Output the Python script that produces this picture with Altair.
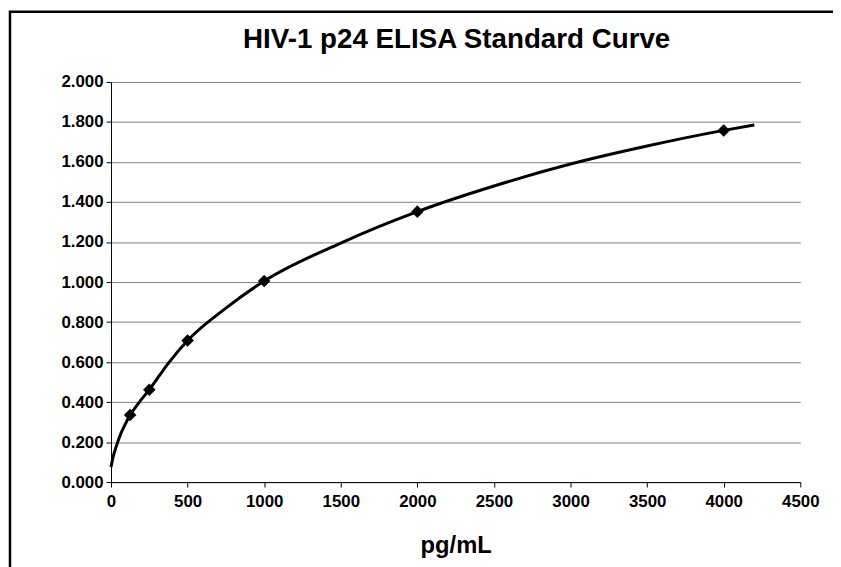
import altair as alt
import pandas as pd

# Standards (pg/mL) and measured OD
conc = [125, 250, 500, 1000, 2000, 4000]
od = [0.335, 0.462, 0.708, 1.005, 1.352, 1.758]

# Trend curve
curve_x = [0, 15, 35, 60, 90, 125, 180, 250, 375, 500, 750, 1000, 1500, 2000, 2500, 3000, 3500, 4000, 4200]
curve_y = [0.075, 0.13, 0.18, 0.235, 0.285, 0.335, 0.395, 0.462, 0.595, 0.708, 0.87, 1.005, 1.195, 1.352, 1.48, 1.59, 1.68, 1.758, 1.785]

x_ticks = [0, 500, 1000, 1500, 2000, 2500, 3000, 3500, 4000, 4500]
y_ticks = [0.0, 0.2, 0.4, 0.6, 0.8, 1.0, 1.2, 1.4, 1.6, 1.8, 2.0]

title_text = ["HIV-1 p24 ELISA Standard Curve"]

pts = pd.DataFrame({"conc": conc, "od": od})
crv = pd.DataFrame({"conc": curve_x, "od": curve_y})

FONT = "Liberation Sans"
W, H = 696, 404
PL, PT = 104, 72
PR = 833 - PL - W
PB = 559 - PT - H

xscale = alt.Scale(domain=[0, 4500], nice=False, zero=False)
yscale = alt.Scale(domain=[0, 2], nice=False)

xaxis = alt.Axis(values=x_ticks, grid=False, title="pg/mL", format="d",
                 labelFont=FONT, labelFontSize=17, labelFontWeight="bold", labelColor="black",
                 titleFont=FONT, titleFontSize=24, titleFontWeight="bold", titleColor="black",
                 titlePadding=24, labelPadding=7, tickSize=5, tickColor="black",
                 domainColor="black", labelFlush=False)
yaxis = alt.Axis(values=y_ticks, grid=True, gridColor="#808080", gridWidth=1, title=None,
                 format=".3f", labelFont=FONT, labelFontSize=17, labelFontWeight="bold",
                 labelColor="black", labelPadding=3, tickSize=5, tickColor="black",
                 domainColor="black")

line = alt.Chart(crv).mark_line(color="black", strokeWidth=3, interpolate="monotone").encode(
    x=alt.X("conc:Q", scale=xscale, axis=xaxis),
    y=alt.Y("od:Q", scale=yscale, axis=yaxis),
)

points = alt.Chart(pts).mark_point(shape="diamond", filled=True, color="black", size=160, opacity=1).encode(
    x=alt.X("conc:Q", scale=xscale),
    y=alt.Y("od:Q", scale=yscale),
)

frame = alt.Chart(pd.DataFrame({"a": [0]})).mark_rect(fill=None, stroke="black", strokeWidth=2.5).encode(
    x=alt.value(-PL + 2), x2=alt.value(W + PR + 10), y=alt.value(-PT + 1), y2=alt.value(H + PB + 10)
)

title = alt.Chart(pd.DataFrame({"t": title_text})).mark_text(
    font=FONT, fontSize=28, fontWeight="bold", color="black", align="center", baseline="middle"
).encode(text="t:N", x=alt.value(W / 2 + 1), y=alt.value(-42))

chart = alt.layer(frame, line, points, title).properties(
    width=W, height=H,
    autosize=alt.AutoSizeParams(type="none"),
    padding={"left": PL, "top": PT, "right": PR, "bottom": PB},
    background="white",
).configure_view(stroke=None)

chart.save("out.html", embed_options={"renderer": "svg", "actions": False})
